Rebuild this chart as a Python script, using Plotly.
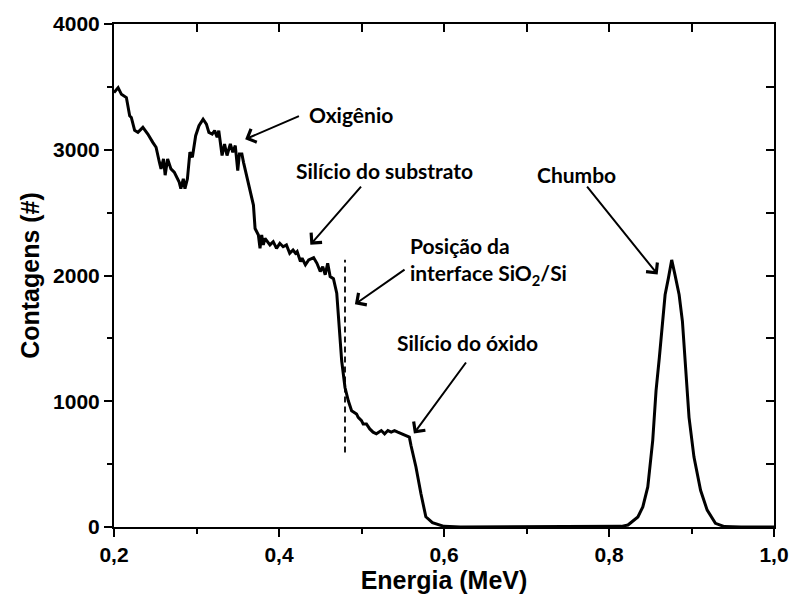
import plotly.graph_objects as go

# RBS spectrum: energy (MeV) and counts
energia = [
    0.200, 0.205, 0.209, 0.215, 0.219, 0.221, 0.225, 0.229, 0.235, 0.241,
    0.247, 0.251, 0.255, 0.257, 0.260, 0.262, 0.265, 0.269, 0.273, 0.279,
    0.281, 0.284, 0.286, 0.289, 0.292, 0.295, 0.299, 0.303, 0.308, 0.312,
    0.315, 0.319, 0.322, 0.325, 0.327, 0.331, 0.334, 0.337, 0.341, 0.344,
    0.347, 0.350, 0.352, 0.355, 0.357, 0.360, 0.363, 0.369, 0.371, 0.373,
    0.375, 0.377, 0.379, 0.381, 0.383, 0.389, 0.393, 0.397, 0.401, 0.405,
    0.409, 0.413, 0.417, 0.420, 0.422, 0.426, 0.428, 0.432, 0.436, 0.442,
    0.446, 0.450, 0.453, 0.456, 0.459, 0.462, 0.466, 0.470, 0.473, 0.476,
    0.480, 0.484, 0.488, 0.494, 0.496, 0.500, 0.502, 0.506, 0.510, 0.514,
    0.518, 0.524, 0.528, 0.532, 0.536, 0.540, 0.544, 0.548, 0.554, 0.558,
    0.560, 0.566, 0.572, 0.578, 0.586, 0.594, 0.600, 0.620, 0.700, 0.800,
    0.815, 0.823, 0.835, 0.841, 0.847, 0.853, 0.857, 0.861, 0.865, 0.868,
    0.872, 0.876, 0.880, 0.885, 0.889, 0.893, 0.897, 0.903, 0.911, 0.919,
    0.929, 0.940, 0.960, 1.000,
]
contagens = [
    3454, 3494, 3441, 3415, 3270, 3257, 3154, 3138, 3178, 3125,
    3059, 3020, 2901, 2848, 2927, 2798, 2927, 2848, 2822, 2743,
    2690, 2769, 2690, 2769, 2980, 2940, 3112, 3191, 3243, 3204,
    3138, 3125, 3152, 3099, 3152, 2954, 3046, 2954, 3046, 2980,
    3033, 2835, 2967, 2967, 2900, 2820, 2720, 2560, 2374, 2348,
    2322, 2216, 2322, 2243, 2295, 2243, 2269, 2216, 2256, 2229,
    2243, 2177, 2203, 2177, 2190, 2111, 2137, 2085, 2124, 2142,
    2097, 2032, 2071, 2006, 2097, 1992, 1975, 1860, 1600, 1320,
    1109, 1004, 925, 899, 872, 846, 820, 820, 780, 754,
    741, 767, 741, 767, 754, 767, 754, 741, 727, 715,
    648, 477, 266, 81, 34, 16, 5, 0, 0, 0,
    5, 16, 80, 160, 319, 688, 1083, 1346, 1610, 1847,
    1979, 2124, 2005, 1847, 1636, 1267, 872, 556, 292, 134,
    29, 3, 0, 0,
]

# SiO2/Si interface marker
interface_energia = 0.48
interface_faixa = [593, 2126]

# Labels: (text, text x, text y, arrow tail x, tail y, arrow tip x, tip y, anchor)
rotulos = [
    ("Oxigênio", 0.487, 3281, 0.426, 3273, 0.359, 3083, "center"),
    ("Silício do substrato", 0.528, 2838, 0.501, 2719, 0.438, 2245, "center"),
    ("Posição da<br>interface SiO<sub>2</sub>/Si", 0.5565, 2119, 0.554, 2055, 0.492, 1771, "left"),
    ("Silício do óxido", 0.629, 1470, 0.628, 1320, 0.5635, 743, "center"),
    ("Chumbo", 0.760, 2806, 0.772, 2719, 0.859, 2008, "center"),
]

x_range = [0.2, 1.0]
y_range = [0, 4000]

fig = go.Figure()

fig.add_trace(go.Scatter(
    x=energia, y=contagens, mode="lines",
    line=dict(color="black", width=3),
    showlegend=False, hoverinfo="skip",
))

fig.add_trace(go.Scatter(
    x=[interface_energia, interface_energia], y=interface_faixa, mode="lines",
    line=dict(color="black", width=1.8, dash="6px,4px"),
    showlegend=False, hoverinfo="skip",
))

# empty trace so the mirrored top/right axes get drawn
fig.add_trace(go.Scatter(x=[None], y=[None], xaxis="x2", yaxis="y2",
                         showlegend=False, hoverinfo="skip"))

label_font = dict(family="Lato, Open Sans, sans-serif", size=21, color="black", weight="bold")

for texto, tx, ty, ax, ay, hx, hy, anchor in rotulos:
    fig.add_annotation(
        x=tx, y=ty, xref="x", yref="y", text=texto, showarrow=False,
        xanchor=anchor, yanchor="middle", align="left", font=label_font,
    )
    fig.add_annotation(
        x=hx, y=hy, ax=ax, ay=ay, xref="x", yref="y", axref="x", ayref="y",
        text="", showarrow=True, arrowhead=4, arrowsize=1.4, arrowwidth=2,
        arrowcolor="black", standoff=0, startstandoff=0,
    )

tick_font = dict(family="Liberation Sans, Arial, sans-serif", size=21, color="black", weight="bold")
title_font = dict(family="Liberation Sans, Arial, sans-serif", size=25, color="black", weight="bold")

fig.update_layout(
    width=801, height=602,
    margin=dict(l=114, r=18, t=21, b=75),
    paper_bgcolor="white", plot_bgcolor="white",
    separators=",.",
    xaxis=dict(
        range=x_range, dtick=0.2, tick0=0.2, tickformat=".1f",
        ticks="outside", ticklen=8, tickwidth=2, tickcolor="black",
        minor=dict(dtick=0.1, ticks="outside", ticklen=5, tickwidth=2, tickcolor="black"),
        showline=True, linewidth=2, linecolor="black", showgrid=False, zeroline=False,
        tickfont=tick_font,
        title=dict(text="Energia (MeV)", font=title_font, standoff=4),
    ),
    yaxis=dict(
        range=y_range, dtick=1000, tickformat="d",
        ticks="outside", ticklen=8, tickwidth=2, tickcolor="black",
        minor=dict(dtick=500, ticks="outside", ticklen=5, tickwidth=2, tickcolor="black"),
        showline=True, linewidth=2, linecolor="black", showgrid=False, zeroline=False,
        tickfont=tick_font,
        title=dict(text="Contagens (#)", font=title_font, standoff=6),
    ),
    xaxis2=dict(
        range=x_range, overlaying="x", side="top", anchor="y2",
        dtick=0.2, tick0=0.2, ticks="inside", ticklen=8, tickwidth=2, tickcolor="black",
        minor=dict(dtick=0.1, ticks="inside", ticklen=8, tickwidth=2, tickcolor="black"),
        showticklabels=False, showline=True, linewidth=2, linecolor="black",
        showgrid=False, zeroline=False,
    ),
    yaxis2=dict(
        range=y_range, overlaying="y", side="right", anchor="x2",
        dtick=1000, ticks="inside", ticklen=8, tickwidth=2, tickcolor="black",
        minor=dict(dtick=500, ticks="inside", ticklen=8, tickwidth=2, tickcolor="black"),
        showticklabels=False, showline=True, linewidth=2, linecolor="black",
        showgrid=False, zeroline=False,
    ),
)

fig.write_html("out.html")
